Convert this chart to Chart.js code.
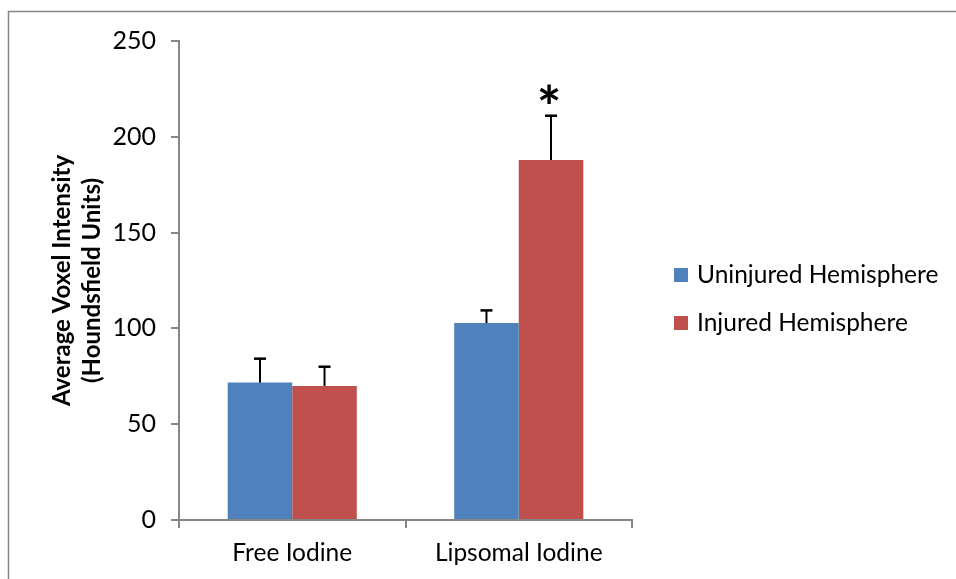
<!DOCTYPE html>
<html>
<head>
<meta charset="utf-8">
<script src="https://cdn.jsdelivr.net/npm/chart.js@4"></script>
<style>
    html, body { margin: 0; padding: 0; background: #ffffff; }
    #wrap { width: 956px; height: 579px; position: relative; }
</style>
</head>
<body>
<div id="wrap"><canvas id="chart" width="956" height="579"></canvas></div>
<script>
// Values
let categories = ["Free Iodine", "Lipsomal Iodine"];
let seriesNames = ["Uninjured Hemisphere", "Injured Hemisphere"];
let uninjured = [71.7, 102.8];
let injured = [70.0, 187.9];
let uninjuredErr = [12.5, 6.6];
let injuredErr = [10.0, 23.1];
let significant = [[false, false], [false, true]]; // [series][category]
let yTicks = [0, 50, 100, 150, 200, 250];

let colors = ["#4F81BD", "#C0504D"];
let axisGray = "#868686";
let fontName = "Lato, 'Open Sans', sans-serif";

// frame around the whole chart (as in the source document)
const framePlugin = {
    id: "frame",
    beforeDraw(chart) {
        let ctx = chart.ctx;
        ctx.save();
        ctx.strokeStyle = axisGray;
        ctx.lineWidth = 1.5;
        ctx.beginPath();
        ctx.moveTo(8.5, 600);
        ctx.lineTo(8.5, 11.5);
        ctx.lineTo(960, 11.5);
        ctx.stroke();
        ctx.restore();
    }
};

// upper error bars + significance star
const errorBarPlugin = {
    id: "errorBars",
    afterDatasetsDraw(chart) {
        let ctx = chart.ctx;
        let yScale = chart.scales.y;
        let errs = [uninjuredErr, injuredErr];
        ctx.save();
        chart.data.datasets.forEach((ds, di) => {
            let meta = chart.getDatasetMeta(di);
            meta.data.forEach((bar, i) => {
                let top = yScale.getPixelForValue(ds.data[i] + errs[di][i]);
                ctx.strokeStyle = "#000000";
                ctx.lineWidth = 2;
                ctx.beginPath();
                ctx.moveTo(bar.x, bar.y);
                ctx.lineTo(bar.x, top);
                ctx.stroke();
                ctx.lineWidth = 2.5;
                ctx.beginPath();
                ctx.moveTo(bar.x - 6, top);
                ctx.lineTo(bar.x + 6, top);
                ctx.stroke();

                if (significant[di][i]) {
                    ctx.font = "bold 58px " + fontName;
                    ctx.fillStyle = "#000000";
                    ctx.textAlign = "center";
                    ctx.textBaseline = "alphabetic";
                    let m = ctx.measureText("*");
                    // bottom of the glyph a little above the cap
                    let baseY = top - 12 - m.actualBoundingBoxDescent;
                    ctx.fillText("*", bar.x - 2, baseY);
                }
            });
        });
        ctx.restore();
    }
};

// legend on the right side
const legendPlugin = {
    id: "sideLegend",
    afterDraw(chart) {
        let ctx = chart.ctx;
        ctx.save();
        ctx.font = "24.5px " + fontName;
        ctx.textBaseline = "middle";
        ctx.textAlign = "left";
        chart.data.datasets.forEach((ds, i) => {
            let cy = 275 + i * 48;
            ctx.fillStyle = ds.backgroundColor;
            ctx.fillRect(674, cy - 7, 14, 14);
            ctx.fillStyle = "#000000";
            ctx.fillText(ds.label, 697, cy);
        });
        ctx.restore();
    }
};

let chart = new Chart(document.getElementById("chart"), {
    type: "bar",
    data: {
        labels: categories,
        datasets: [
            { label: seriesNames[0], data: uninjured, backgroundColor: colors[0] },
            { label: seriesNames[1], data: injured, backgroundColor: colors[1] }
        ]
    },
    options: {
        responsive: false,
        animation: false,
        devicePixelRatio: 1,
        categoryPercentage: 0.57,
        barPercentage: 1.0,
        layout: { padding: { top: 41, right: 324, bottom: 0, left: 0 } },
        plugins: {
            legend: { display: false },
            tooltip: { enabled: false }
        },
        scales: {
            x: {
                grid: {
                    offset: true,
                    drawOnChartArea: false,
                    drawTicks: true,
                    tickLength: 8,
                    color: axisGray,
                    lineWidth: 2
                },
                border: { color: axisGray, width: 2 },
                ticks: {
                    color: "#000000",
                    font: { family: fontName, size: 24.5 },
                    padding: 10
                },
                afterFit(scale) { scale.height = 59; }
            },
            y: {
                min: 0,
                max: 250,
                afterBuildTicks(scale) {
                    scale.ticks = yTicks.map(v => ({ value: v }));
                },
                grid: {
                    drawOnChartArea: false,
                    drawTicks: true,
                    tickLength: 8,
                    color: axisGray,
                    lineWidth: 2
                },
                border: { color: axisGray, width: 2 },
                ticks: {
                    color: "#000000",
                    font: { family: fontName, size: 25 },
                    padding: 15
                },
                title: {
                    display: true,
                    text: ["Average Voxel Intensity", "(Houndsfield Units)"],
                    color: "#000000",
                    font: { family: fontName, size: 24, weight: "bold", lineHeight: 1.25 },
                    padding: { top: 47, bottom: 0 }
                },
                afterFit(scale) { scale.width = 179; }
            }
        }
    },
    plugins: [framePlugin, errorBarPlugin, legendPlugin]
});
</script>
</body>
</html>
